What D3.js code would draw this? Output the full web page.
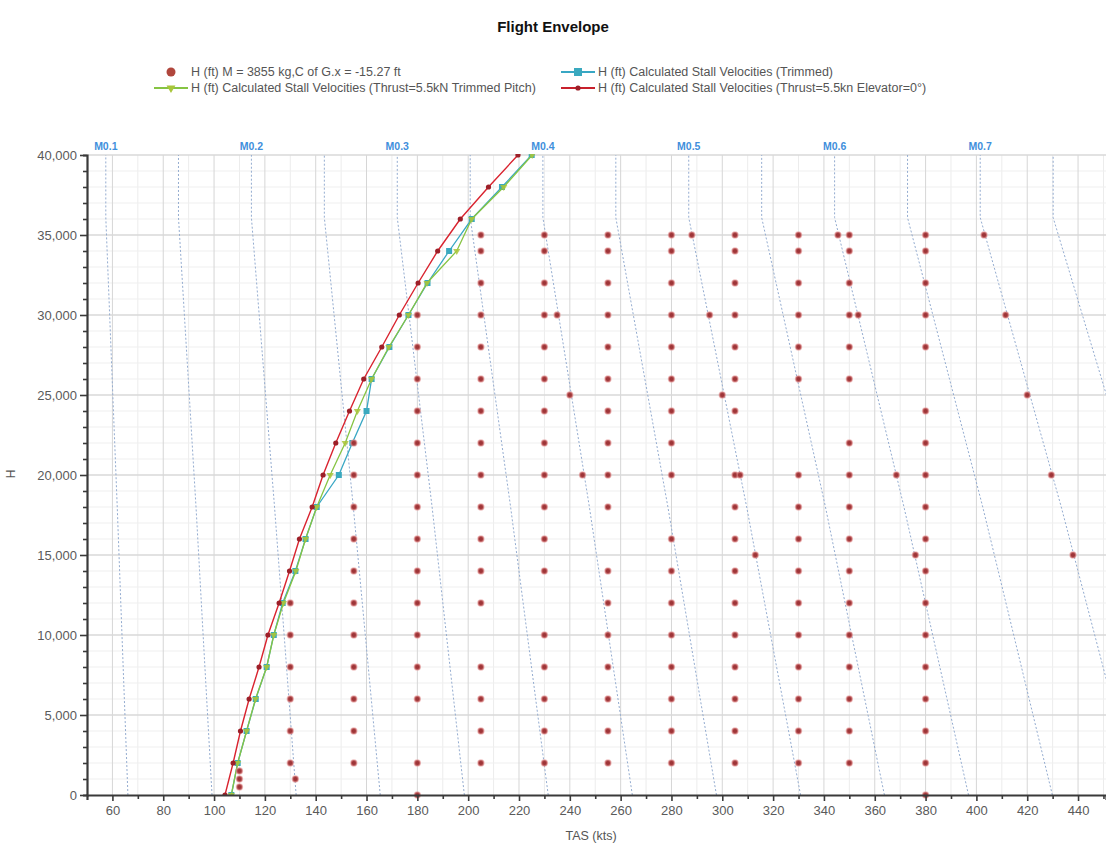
<!DOCTYPE html>
<html>
<head>
<meta charset="utf-8">
<script src="https://cdn.jsdelivr.net/npm/d3@7"></script>
<style>
  html, body { margin: 0; padding: 0; background: #fff; }
  svg { display: block; font-family: "Liberation Sans", Arial, sans-serif; }
</style>
</head>
<body>
<svg id="chart" width="1106" height="847"></svg>
<script>
// ---- Operating points flown (TAS in kts, altitude in ft) ----
const pointTas = [
  205, 230, 255, 280, 288, 305, 330, 345.5, 350, 380, 403,               // 35,000
  205, 230, 255, 280, 305, 330, 350, 380,                                // 34,000
  205, 230, 255, 280, 305, 330, 350, 380,                                // 32,000
  180, 205, 230, 235, 255, 280, 295, 305, 330, 350, 353.5, 380, 411.5,   // 30,000
  180, 205, 230, 255, 280, 305, 330, 350, 380,                           // 28,000
  180, 205, 230, 255, 280, 305, 330, 350,                                // 26,000
  240, 300, 420,                                                         // 25,000
  180, 205, 230, 255, 280, 305, 380,                                     // 24,000
  155, 180, 205, 230, 255, 280, 350, 380,                                // 22,000
  155, 180, 205, 230, 245, 255, 280, 305, 307, 330, 350, 368.5, 380, 429.5, // 20,000
  155, 180, 205, 230, 255, 305, 330, 350, 380,                           // 18,000
  155, 180, 205, 230, 280, 305, 330, 350, 380,                           // 16,000
  313, 376, 438,                                                         // 15,000
  155, 180, 205, 230, 255, 280, 305, 330, 350, 380,                      // 14,000
  130, 155, 180, 205, 255, 280, 305, 330, 350, 380,                      // 12,000
  130, 155, 180, 230, 255, 280, 305, 330, 350, 380,                      // 10,000
  130, 155, 180, 205, 230, 255, 280, 305, 330, 350, 380,                 // 8,000
  130, 155, 180, 205, 230, 255, 280, 305, 330, 350, 380,                 // 6,000
  130, 155, 205, 230, 255, 280, 305, 330, 350, 380,                      // 4,000
  130, 155, 180, 205, 230, 255, 280, 305, 330, 350, 380,                 // 2,000
  110,                                                                   // 1,500
  110, 132,                                                              // 1,000
  110,                                                                   // 500
  180, 380                                                               // 0
];
const pointAltRows = [
  [35000, 11], [34000, 8], [32000, 8], [30000, 13], [28000, 9], [26000, 8],
  [25000, 3], [24000, 7], [22000, 8], [20000, 14], [18000, 9], [16000, 9],
  [15000, 3], [14000, 10], [12000, 10], [10000, 10], [8000, 11], [6000, 11],
  [4000, 10], [2000, 11], [1500, 1], [1000, 2], [500, 1], [0, 2]
];

// ---- Calculated stall velocities (kts) at each altitude ----
const stallAlt = [0, 2000, 4000, 6000, 8000, 10000, 12000, 14000, 16000, 18000, 20000,
                  22000, 24000, 26000, 28000, 30000, 32000, 34000, 36000, 38000, 40000];
const stallTrimmed = [106.8, 109.3, 112.8, 116.4, 120.7, 123.5, 127.0, 132.0, 136.0, 140.4, 149.1,
                      154.4, 160.0, 162.0, 169.0, 176.5, 184.0, 192.5, 201.4, 213.3, 225.0];
const stallTrimmedPitch = [106.8, 109.3, 112.8, 116.3, 120.7, 123.5, 127.3, 132.2, 136.0, 140.4, 145.7,
                           151.6, 156.4, 162.0, 168.8, 176.5, 183.8, 195.5, 201.4, 214.0, 225.2];
const stallElevatorZero = [104.3, 107.5, 110.4, 113.8, 117.7, 121.2, 125.6, 129.7, 133.6, 138.6, 142.9,
                           147.9, 153.3, 158.9, 166.0, 172.9, 180.3, 188.0, 196.9, 208.0, 219.6];

// ---- Constant Mach lines: TAS (kts) at sea level, 18,000 ft and the tropopause ----
const machNumbers   = [0.1, 0.15, 0.2, 0.25, 0.3, 0.35, 0.4, 0.45, 0.5, 0.55, 0.6, 0.65, 0.7, 0.75];
const machLabels    = ["M0.1", "", "M0.2", "", "M0.3", "", "M0.4", "", "M0.5", "", "M0.6", "", "M0.7", ""];
const machTasSL     = [66.1, 99.2, 132.3, 165.4, 198.5, 231.5, 264.6, 297.7, 330.8, 363.8, 396.9, 429.9, 463.0, 496.1];
const machTas18k    = [61.9, 92.9, 123.8, 154.8, 185.8, 216.7, 247.7, 278.6, 309.6, 340.6, 371.5, 402.5, 433.4, 464.4];
const machTasTropo  = [57.4, 86.0, 114.7, 143.4, 172.1, 200.8, 229.4, 258.1, 286.8, 315.5, 344.2, 372.9, 401.5, 430.2];
const machAlts      = [0, 18000, 36089, 40000];

// ---- Axis ticks and legend ----
const xTickLabels = [60, 80, 100, 120, 140, 160, 180, 200, 220, 240, 260, 280, 300, 320, 340, 360, 380, 400, 420, 440];
const yTickLabels = [0, 5000, 10000, 15000, 20000, 25000, 30000, 35000, 40000];
const legendLabels = [
  "H (ft) M = 3855 kg,C of G.x = -15.27 ft",
  "H (ft)  Calculated Stall Velocities (Thrust=5.5kN Trimmed Pitch)",
  "H (ft)  Calculated Stall Velocities (Trimmed)",
  "H (ft)  Calculated Stall Velocities (Thrust=5.5kn Elevator=0°)"
];

const svg = d3.select("#chart");
const W = 1106, H = 847;
const plot = { left: 87, right: 1106, top: 155, bottom: 795 };

const x = d3.scaleLinear().domain([50, 451]).range([plot.left, plot.right]);
const y = d3.scaleLinear().domain([0, 40000]).range([plot.bottom, plot.top]);

svg.append("rect").attr("width", W).attr("height", H).attr("fill", "#fff");

svg.append("defs").append("clipPath").attr("id", "plotClip")
  .append("rect")
  .attr("x", plot.left).attr("y", plot.top - 1)
  .attr("width", plot.right - plot.left).attr("height", plot.bottom - plot.top + 1);

// Title
svg.append("text")
  .attr("x", 553).attr("y", 32)
  .attr("text-anchor", "middle")
  .attr("font-size", 15).attr("font-weight", "bold").attr("fill", "#111")
  .text("Flight Envelope");

// Grid
const grid = svg.append("g");
grid.selectAll("line.vmin").data(d3.range(60, 451, 10).filter(v => v % 20 !== 0))
  .join("line")
  .attr("x1", d => x(d)).attr("x2", d => x(d))
  .attr("y1", plot.top).attr("y2", plot.bottom)
  .attr("stroke", "#ececec").attr("stroke-width", 1);
grid.selectAll("line.hmin").data(d3.range(1000, 40000, 1000).filter(v => v % 5000 !== 0))
  .join("line")
  .attr("x1", plot.left).attr("x2", plot.right)
  .attr("y1", d => y(d)).attr("y2", d => y(d))
  .attr("stroke", "#efefef").attr("stroke-width", 1);
grid.selectAll("line.vmaj").data(xTickLabels)
  .join("line")
  .attr("x1", d => x(d)).attr("x2", d => x(d))
  .attr("y1", plot.top).attr("y2", plot.bottom)
  .attr("stroke", "#d6d6d6").attr("stroke-width", 1);
grid.selectAll("line.hmaj").data(yTickLabels.filter(v => v > 0))
  .join("line")
  .attr("x1", plot.left).attr("x2", plot.right)
  .attr("y1", d => y(d)).attr("y2", d => y(d))
  .attr("stroke", "#d9d9d9").attr("stroke-width", 1.6);

// Constant Mach lines
const plotArea = svg.append("g").attr("clip-path", "url(#plotClip)");
const machData = machNumbers.map((m, i) => ({
  m, label: machLabels[i],
  pts: [[machTasSL[i], machAlts[0]], [machTas18k[i], machAlts[1]],
        [machTasTropo[i], machAlts[2]], [machTasTropo[i], machAlts[3]]]
}));
const machLine = d3.line().x(d => x(d[0])).y(d => y(d[1]));
plotArea.selectAll("path.mach").data(machData)
  .join("path")
  .attr("d", d => machLine(d.pts))
  .attr("fill", "none")
  .attr("stroke", "#94acd0").attr("stroke-width", 1)
  .attr("stroke-dasharray", "2,2");

svg.selectAll("text.machLabel").data(machData.filter(d => d.label))
  .join("text")
  .attr("x", d => x(d.pts[3][0]))
  .attr("y", plot.top - 5)
  .attr("text-anchor", "middle")
  .attr("font-size", 10.5).attr("font-weight", "bold")
  .attr("fill", "#3f8fdc")
  .text(d => d.label);

// Stall velocity curves
function drawSeries(values, color, width) {
  const pts = stallAlt.map((a, i) => [values[i], a]);
  plotArea.append("path")
    .attr("d", d3.line().x(d => x(d[0])).y(d => y(d[1]))(pts))
    .attr("fill", "none").attr("stroke", color).attr("stroke-width", width);
  return pts;
}
const trimmedPts = drawSeries(stallTrimmed, "#38a7c4", 1.3);
plotArea.selectAll("rect.trim").data(trimmedPts)
  .join("rect")
  .attr("x", d => x(d[0]) - 3).attr("y", d => y(d[1]) - 3)
  .attr("width", 6).attr("height", 6)
  .attr("fill", "#3aa9bf");

const pitchPts = drawSeries(stallTrimmedPitch, "#86c443", 1.3);
const tri = d3.symbol().type(d3.symbolTriangle).size(22);
plotArea.selectAll("path.pitch").data(pitchPts)
  .join("path")
  .attr("d", tri)
  .attr("transform", d => `translate(${x(d[0])},${y(d[1])}) rotate(180)`)
  .attr("fill", "#a9c63a").attr("opacity", 0.85);

const elevPts = drawSeries(stallElevatorZero, "#d9232f", 1.4);
plotArea.selectAll("circle.elev").data(elevPts)
  .join("circle")
  .attr("cx", d => x(d[0])).attr("cy", d => y(d[1]))
  .attr("r", 2.6).attr("fill", "#9c1f28");

// Flown operating points
const pointAlt = [];
pointAltRows.forEach(([alt, n]) => { for (let k = 0; k < n; k++) pointAlt.push(alt); });
const points = pointTas.map((t, i) => [t, pointAlt[i]]);
svg.append("g").selectAll("circle").data(points)
  .join("circle")
  .attr("cx", d => x(d[0])).attr("cy", d => y(d[1]))
  .attr("r", 2.9)
  .attr("fill", "#9e3538")
  .attr("stroke", "rgba(226,140,140,0.55)").attr("stroke-width", 1.6);

// Axes
const axisColor = "#3a3a3a";
const xAxis = svg.append("g").attr("transform", `translate(0,${plot.bottom})`)
  .call(d3.axisBottom(x).tickValues(d3.range(60, 451, 10))
    .tickSize(5).tickFormat(d => xTickLabels.includes(d) ? d : ""));
xAxis.select(".domain").attr("stroke", axisColor).attr("stroke-width", 2.2);
xAxis.selectAll(".tick line").attr("stroke", axisColor).attr("stroke-width", 1.6)
  .attr("y2", d => (d % 20 === 0 ? 6 : 4));
xAxis.selectAll(".tick text").attr("font-size", 13).attr("fill", "#5a5a5a")
  .attr("font-family", "Liberation Sans, Arial, sans-serif").attr("dy", "0.95em");

const yAxis = svg.append("g").attr("transform", `translate(${plot.left},0)`)
  .call(d3.axisLeft(y).tickValues(d3.range(0, 40001, 1000))
    .tickSize(4).tickFormat(d => yTickLabels.includes(d) ? d3.format(",")(d) : ""));
yAxis.select(".domain").attr("stroke", axisColor).attr("stroke-width", 2.2);
yAxis.selectAll(".tick line").attr("stroke", axisColor).attr("stroke-width", 1.6)
  .attr("x2", d => (d % 5000 === 0 ? -7 : -4));
yAxis.selectAll(".tick text").attr("font-size", 13).attr("fill", "#5a5a5a")
  .attr("font-family", "Liberation Sans, Arial, sans-serif").attr("x", -10);

// Axis titles
svg.append("text")
  .attr("transform", "translate(15,474) rotate(-90)")
  .attr("text-anchor", "middle").attr("font-size", 12).attr("fill", "#555")
  .text("H");
svg.append("text")
  .attr("x", 591).attr("y", 840)
  .attr("text-anchor", "middle").attr("font-size", 12.5).attr("fill", "#555")
  .text("TAS (kts)");

// Legend
const legend = svg.append("g").attr("font-size", 12.5).attr("fill", "#555");
const legendItems = [
  { label: legendLabels[0], kind: "dot",   cx: 171, y: 72 },
  { label: legendLabels[1], kind: "pitch", cx: 171, y: 88 },
  { label: legendLabels[2], kind: "trim",  cx: 578, y: 72 },
  { label: legendLabels[3], kind: "elev",  cx: 578, y: 88 }
];
legendItems.forEach(it => {
  const g = legend.append("g");
  if (it.kind === "dot") {
    g.append("circle").attr("cx", it.cx).attr("cy", it.y).attr("r", 4.5).attr("fill", "#b0463c");
  } else {
    const col = it.kind === "pitch" ? "#86c443" : it.kind === "trim" ? "#38a7c4" : "#c8202c";
    g.append("line").attr("x1", it.cx - 17).attr("x2", it.cx + 17)
      .attr("y1", it.y).attr("y2", it.y).attr("stroke", col).attr("stroke-width", 2.2);
    if (it.kind === "trim") {
      g.append("rect").attr("x", it.cx - 4).attr("y", it.y - 4).attr("width", 8).attr("height", 8).attr("fill", "#3aa9bf");
    } else if (it.kind === "pitch") {
      g.append("path").attr("d", d3.symbol().type(d3.symbolTriangle).size(34))
        .attr("transform", `translate(${it.cx},${it.y}) rotate(180)`).attr("fill", "#a9c63a");
    } else {
      g.append("circle").attr("cx", it.cx).attr("cy", it.y).attr("r", 2.6).attr("fill", "#9c1f28");
    }
  }
  g.append("text").attr("x", it.cx + 20).attr("y", it.y).attr("dy", "0.35em").text(it.label);
});
</script>
</body>
</html>
